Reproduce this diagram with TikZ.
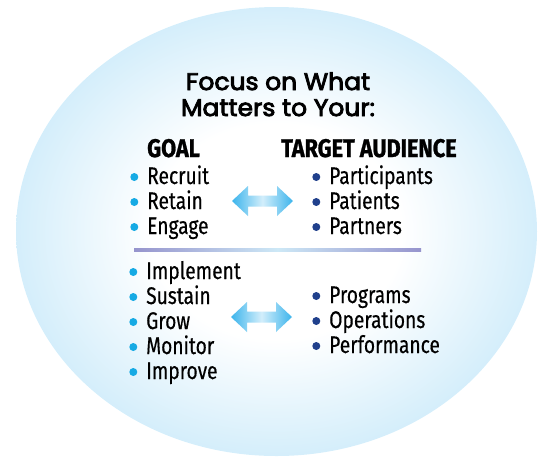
\documentclass[tikz,border=0pt]{standalone}
\usepackage{fontspec}
\usetikzlibrary{calc}
\newfontfamily\titlefont[FakeStretch=1.04, FakeBold=3.5]{Poppins}
\newfontfamily\itemfam[FakeStretch=0.8, FakeBold=0.4]{Fira Sans}
\newfontfamily\headfam[FakeStretch=0.85, FakeBold=1]{Fira Sans Bold}
\definecolor{cSky}{RGB}{130,205,242}
\definecolor{cGoal}{RGB}{22,170,228}
\definecolor{cAud}{RGB}{32,64,140}
\definecolor{cArrow}{RGB}{60,180,236}
\definecolor{cArrowLt}{RGB}{210,238,251}
\definecolor{cRule}{RGB}{150,148,205}
\definecolor{cRuleLt}{RGB}{205,232,246}
\pgfdeclareradialshading{bubble}{\pgfpointorigin}{color(0bp)=(white); color(12bp)=(white); color(50bp)=(cSky)}

\begin{document}
\begin{tikzpicture}[x=1pt, y=-1pt,
    every node/.style={inner sep=0pt},
    title/.style={anchor=base, font={\titlefont\fontsize{24}{28}\selectfont}},
    head/.style={anchor=base west, font={\headfam\fontsize{25.5}{29}\selectfont}},
    item/.style={anchor=base west, text height=18pt, text depth=4pt,
      font={\itemfam\fontsize{24}{28}\selectfont}},
    goalitem/.style={item, label={[circle, fill=cGoal, minimum size=8pt, label distance=8.5pt]left:{}}},
    auditem/.style={item, label={[circle, fill=cAud, minimum size=8pt, label distance=8.5pt]left:{}}},
    twoway/.style={left color=cArrow, right color=cArrow, middle color=cArrowLt}]
  \useasboundingbox (0,0) rectangle (554,464);

  % background bubble
  \shade[shading=bubble] (276.5,231.5) ellipse [x radius=260.5, y radius=224.5];

  \node[title] (t1) at (278,90) {Focus on What};
  \node[title] (t2) at (278,116) {Matters to Your:};

  \node[head] (goal) at (147,157) {GOAL};
  \node[head] (aud) at (281,157) {TARGET AUDIENCE};

  % upper block
  \node[goalitem] (g1) at (147,184) {Recruit};
  \node[goalitem] (g2) at (147,209) {Retain};
  \node[goalitem] (g3) at (147,234) {Engage};
  \node[auditem] (a1) at (329,184) {Participants};
  \node[auditem] (a2) at (329,209) {Patients};
  \node[auditem] (a3) at (329,234) {Partners};

  % divider
  \coordinate (rl) at (134,250);
  \coordinate (rr) at (421,250);
  \shade[left color=cRule, right color=cRule, middle color=cRuleLt]
    ($(rl)+(0,-1.6)$) rectangle ($(rr)+(0,1.6)$);

  % lower block
  \node[goalitem] (g4) at (146,279) {Implement};
  \node[goalitem] (g5) at (146,304) {Sustain};
  \node[goalitem] (g6) at (146,329) {Grow};
  \node[goalitem] (g7) at (146,354) {Monitor};
  \node[goalitem] (g8) at (146,379) {Improve};
  \node[auditem] (a4) at (329,303) {Programs};
  \node[auditem] (a5) at (329,328) {Operations};
  \node[auditem] (a6) at (329,353) {Performance};

  % two-way arrows
  \coordinate (up) at (262.5,201);
  \coordinate (low) at (261.5,317);
  \shade[twoway, shift={(up)}] (-30.5,0) -- (-14.5,-15) -- (-14.5,-5.5) -- (14.5,-5.5)
    -- (14.5,-15) -- (30.5,0) -- (14.5,15) -- (14.5,5.5) -- (-14.5,5.5) -- (-14.5,15) -- cycle;
  \shade[twoway, shift={(low)}] (-30.5,0) -- (-14.5,-15) -- (-14.5,-5.5) -- (14.5,-5.5)
    -- (14.5,-15) -- (30.5,0) -- (14.5,15) -- (14.5,5.5) -- (-14.5,5.5) -- (-14.5,15) -- cycle;
\end{tikzpicture}
\end{document}
